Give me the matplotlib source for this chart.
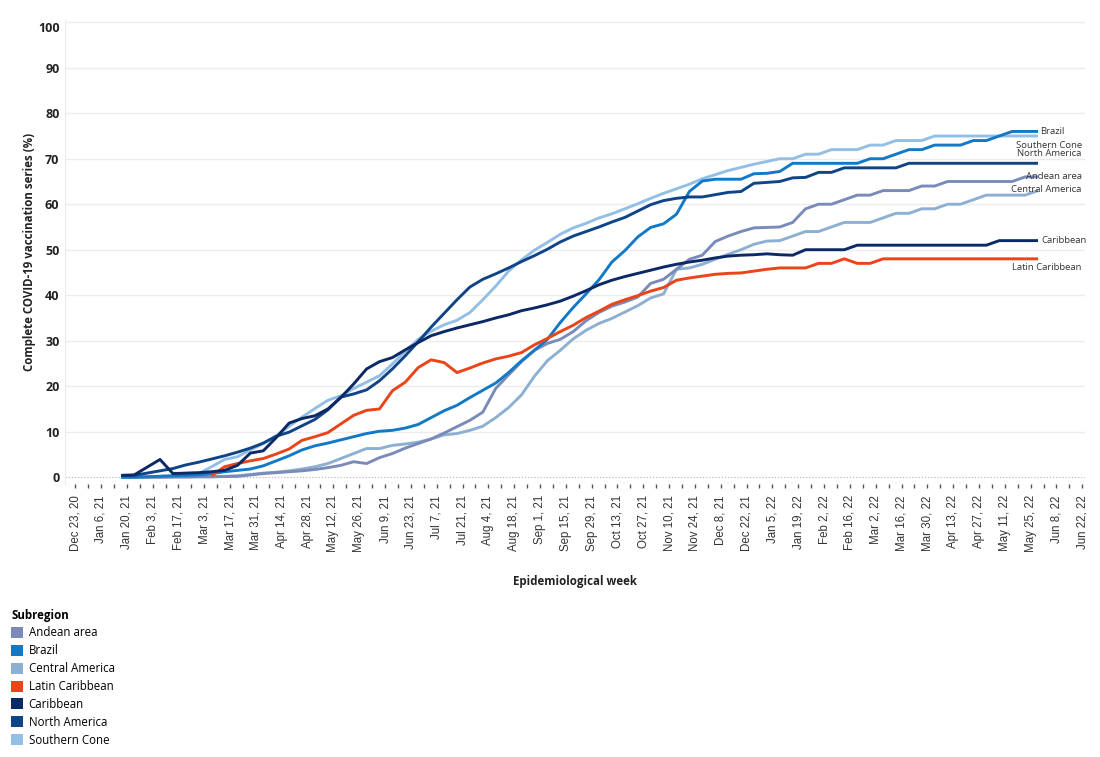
import matplotlib
matplotlib.use('Agg')
import matplotlib.pyplot as plt
from matplotlib.patches import Patch
import numpy as np
import pandas as pd

plt.rcParams['font.family'] = ['Open Sans', 'DejaVu Sans']

# weekly data points (Sundays)
dates = pd.date_range('2021-01-17', periods=72, freq='7D')

andean = [0.0, 0.0, 0.0, 0.0, 0.05, 0.05, 0.1, 0.1, 0.15, 0.2,
          0.5, 0.8, 1.0, 1.2, 1.4, 1.7, 2.1, 2.6, 3.4, 3.0,
          4.3, 5.2, 6.4, 7.4, 8.4, 9.7, 11.1, 12.5, 14.3, 19.5,
          22.5, 25.4, 27.9, 29.4, 30.3, 32.0, 34.4, 36.2, 37.6, 38.5,
          39.6, 42.6, 43.5, 45.7, 47.9, 48.8, 51.8, 53.0, 54.0, 54.8,
          54.9, 55.0, 56.0, 59.0, 60.0, 60.0, 61.0, 62.0, 62.0, 63.0,
          63.0, 63.0, 64.0, 64.0, 65.0, 65.0, 65.0, 65.0, 65.0, 65.0,
          66.0, 66.0]
brazil = [0.0, 0.0, 0.1, 0.2, 0.3, 0.4, 0.5, 0.8, 1.2, 1.5,
          1.8, 2.5, 3.6, 4.7, 6.0, 6.9, 7.5, 8.2, 8.9, 9.6,
          10.1, 10.3, 10.8, 11.6, 13.1, 14.6, 15.8, 17.5, 19.1, 20.7,
          23.0, 25.6, 27.9, 30.3, 34.0, 37.3, 40.3, 43.4, 47.3, 49.8,
          52.8, 54.9, 55.7, 57.8, 62.8, 65.1, 65.5, 65.5, 65.5, 66.7,
          66.8, 67.2, 69.0, 69.0, 69.0, 69.0, 69.0, 69.0, 70.0, 70.0,
          71.0, 72.0, 72.0, 73.0, 73.0, 73.0, 74.0, 74.0, 75.0, 76.0,
          76.0, 76.0]
central_america = [0.0, 0.0, 0.0, 0.0, 0.05, 0.05, 0.1, 0.1, 0.2, 0.3,
                   0.6, 0.9, 1.1, 1.4, 1.8, 2.3, 3.0, 4.1, 5.2, 6.3,
                   6.3, 7.0, 7.3, 7.7, 8.4, 9.3, 9.6, 10.3, 11.2, 13.1,
                   15.3, 18.1, 22.2, 25.6, 27.9, 30.4, 32.3, 33.8, 34.9, 36.3,
                   37.7, 39.4, 40.3, 45.7, 46.0, 46.8, 47.9, 49.0, 50.0, 51.2,
                   51.9, 52.0, 53.0, 54.0, 54.0, 55.0, 56.0, 56.0, 56.0, 57.0,
                   58.0, 58.0, 59.0, 59.0, 60.0, 60.0, 61.0, 62.0, 62.0, 62.0,
                   62.0, 63.0]
latin_caribbean = [np.nan] * 7 + [0.3, 2.3, 3.0,
                   3.6, 4.1, 5.1, 6.2, 8.1, 8.9, 9.8, 11.7, 13.6, 14.7,
                   15.0, 19.0, 20.9, 24.1, 25.8, 25.2, 23.0, 24.0, 25.1, 26.0,
                   26.6, 27.4, 29.1, 30.5, 32.0, 33.4, 35.1, 36.5, 38.0, 39.0,
                   39.9, 40.9, 41.7, 43.3, 43.8, 44.2, 44.6, 44.8, 44.9, 45.3,
                   45.7, 46.0, 46.0, 46.0, 47.0, 47.0, 48.0, 47.0, 47.0, 48.0,
                   48.0, 48.0, 48.0, 48.0, 48.0, 48.0, 48.0, 48.0, 48.0, 48.0,
                   48.0, 48.0]
caribbean = [0.4, 0.5, 2.2, 3.9, 0.8, 0.9, 1.0, 1.2, 1.5, 2.6,
             5.3, 5.8, 8.7, 11.9, 12.9, 13.5, 15.0, 17.5, 20.5, 23.8,
             25.4, 26.3, 28.0, 29.6, 31.1, 32.0, 32.8, 33.5, 34.2, 35.0,
             35.7, 36.6, 37.2, 37.9, 38.7, 39.8, 41.0, 42.3, 43.3, 44.1,
             44.8, 45.5, 46.2, 46.8, 47.3, 47.7, 48.2, 48.6, 48.8, 48.9,
             49.1, 48.9, 48.8, 50.0, 50.0, 50.0, 50.0, 51.0, 51.0, 51.0,
             51.0, 51.0, 51.0, 51.0, 51.0, 51.0, 51.0, 51.0, 52.0, 52.0,
             52.0, 52.0]
north_america = [0.4, 0.4, 0.9, 1.4, 1.9, 2.7, 3.3, 4.0, 4.7, 5.5,
                 6.4, 7.5, 9.0, 9.9, 11.3, 12.7, 14.8, 17.6, 18.3, 19.2,
                 21.2, 23.8, 26.7, 29.8, 33.0, 36.0, 39.0, 41.8, 43.5, 44.7,
                 46.0, 47.4, 48.7, 50.1, 51.7, 53.0, 54.0, 55.0, 56.1, 57.1,
                 58.5, 59.9, 60.8, 61.3, 61.6, 61.6, 62.1, 62.6, 62.8, 64.6,
                 64.8, 65.0, 65.8, 65.9, 67.0, 67.0, 68.0, 68.0, 68.0, 68.0,
                 68.0, 69.0, 69.0, 69.0, 69.0, 69.0, 69.0, 69.0, 69.0, 69.0,
                 69.0, 69.0]
southern_cone = [0.0, 0.0, 0.1, 0.2, 0.3, 0.4, 0.8, 2.3, 3.9, 4.5,
                 6.0, 7.4, 9.1, 11.2, 13.2, 15.1, 16.9, 17.9, 19.5, 20.9,
                 22.3, 24.9, 27.7, 30.3, 32.1, 33.5, 34.5, 36.2, 39.0, 42.0,
                 45.3, 47.8, 49.9, 51.6, 53.4, 54.8, 55.8, 57.0, 57.9, 59.0,
                 60.1, 61.3, 62.4, 63.4, 64.4, 65.6, 66.5, 67.4, 68.1, 68.8,
                 69.4, 70.0, 70.0, 71.0, 71.0, 72.0, 72.0, 72.0, 73.0, 73.0,
                 74.0, 74.0, 74.0, 75.0, 75.0, 75.0, 75.0, 75.0, 75.0, 75.0,
                 75.0, 75.0]

subregions = ['Andean area', 'Brazil', 'Central America', 'Latin Caribbean',
              'Caribbean', 'North America', 'Southern Cone']
series = {
    'Andean area': andean,
    'Brazil': brazil,
    'Central America': central_america,
    'Latin Caribbean': latin_caribbean,
    'Caribbean': caribbean,
    'North America': north_america,
    'Southern Cone': southern_cone,
}
colors = {
    'Andean area': '#7a8bba',
    'Brazil': '#1179c6',
    'Central America': '#8db0d2',
    'Latin Caribbean': '#ea4418',
    'Caribbean': '#0b2867',
    'North America': '#0f4587',
    'Southern Cone': '#93bfe6',
}
# end labels: (text offset in points, alignment)
end_labels = {
    'Brazil': ((1.5, 0), 'left'),
    'Southern Cone': ((31.5, -6.5), 'right'),
    'North America': ((31.5, 7), 'right'),
    'Andean area': ((31.5, 0), 'right'),
    'Central America': ((31.5, 0.8), 'right'),
    'Caribbean': ((2.5, 0), 'left'),
    'Latin Caribbean': ((31.5, -6.5), 'right'),
}

fig = plt.figure(figsize=(11, 7.57), dpi=100)
ax = fig.add_axes([0.0591, 0.3606, 0.9273, 0.613])

draw_order = ['Southern Cone', 'Central America', 'Andean area', 'Brazil',
              'Latin Caribbean', 'North America', 'Caribbean']
for name in draw_order:
    ax.plot(dates, series[name], color=colors[name], lw=2.1,
            solid_joinstyle='round', solid_capstyle='butt', zorder=3)

for name, (off, ha) in end_labels.items():
    ax.annotate(name, xy=(dates[-1], series[name][-1]), xytext=off,
                textcoords='offset points', ha=ha, va='center',
                fontsize=6.8, color='#333333')

# axes
ax.set_ylim(-1.5, 100.5)
ax.set_xlim(pd.Timestamp('2020-12-17 12:00'), pd.Timestamp('2022-06-23 12:00'))
ax.set_yticks(range(0, 101, 10))
for v in range(10, 101, 10):
    ax.axhline(v, color='#ececec', lw=1.0, zorder=1)
ax.axhline(0, color='#bdbdbd', lw=0.9, ls=(0, (1, 1.5)), zorder=1)

ticks = pd.date_range('2020-12-23', '2022-06-22', freq='7D')
ax.set_xticks(ticks[::2])
ax.set_xticks(ticks[1::2], minor=True)
ax.set_xticklabels([d.strftime('%b %-d, %y') for d in ticks[::2]],
                   rotation=90, fontsize=8.3, family=['Liberation Sans'],
                   color='#333333')
ax.tick_params(axis='x', which='both', length=3, width=1, color='#555555',
               pad=5, direction='out')
ax.tick_params(axis='y', length=0, pad=4, labelsize=9)
for lab in ax.get_yticklabels():
    lab.set_fontweight('bold')
    lab.set_color('#222222')
ax.get_yticklabels()[-1].set_va('top')

for s in ['top', 'right', 'bottom']:
    ax.spines[s].set_visible(False)
ax.spines['left'].set_color('#ececec')

ax.set_ylabel('Complete COVID-19 vaccination series (%)', fontsize=8.3,
              fontweight='bold', labelpad=1, color='#222222')
ax.set_xlabel('Epidemiological week', fontsize=8.3, fontweight='bold',
              labelpad=16, color='#222222')

handles = [Patch(facecolor=colors[n], edgecolor='none') for n in subregions]
leg = fig.legend(handles, subregions, loc='upper left',
                 bbox_to_anchor=(0.006, 1 - 604 / 757), frameon=False,
                 fontsize=8.3, title='Subregion', handlelength=1.0,
                 handleheight=1.1, handletextpad=0.5, labelspacing=0.42,
                 borderaxespad=0)
leg.get_title().set_fontweight('bold')
leg.get_title().set_fontsize(8.3)
leg._legend_box.align = 'left'

fig.savefig('out.png', dpi=100)
